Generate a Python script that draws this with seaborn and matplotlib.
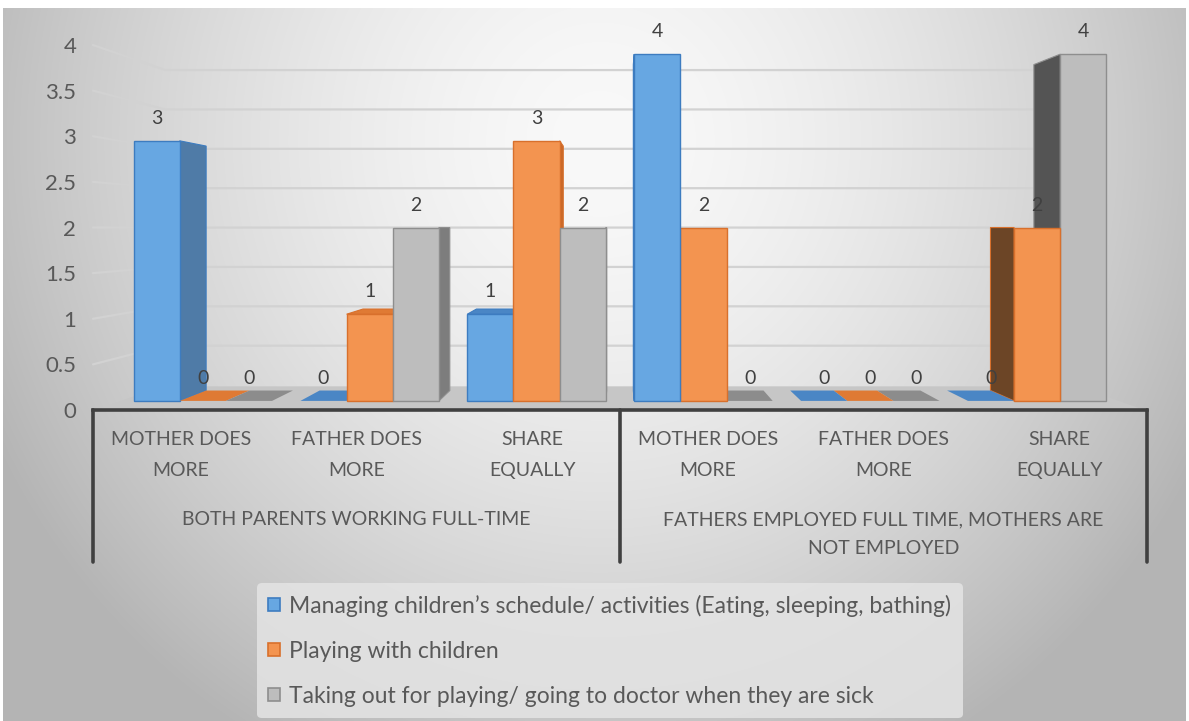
import numpy as np
import pandas as pd
import matplotlib
matplotlib.use("Agg")
import matplotlib.pyplot as plt
import seaborn as sns
from matplotlib.patches import Polygon, Patch

# ---- data -------------------------------------------------------------
groups = ["BOTH PARENTS WORKING FULL-TIME",
          "FATHERS EMPLOYED FULL TIME, MOTHERS ARE\nNOT EMPLOYED"]
subcats = ["MOTHER DOES\nMORE", "FATHER DOES\nMORE", "SHARE\nEQUALLY"]
series = ["Managing children’s schedule/ activities (Eating, sleeping, bathing)",
          "Playing with children",
          "Taking out for playing/ going to doctor when they are sick"]
managing = [3, 0, 1, 4, 0, 0]
playing = [0, 1, 3, 2, 0, 2]
taking_out = [0, 2, 2, 0, 0, 4]
y_ticks = [0, 0.5, 1, 1.5, 2, 2.5, 3, 3.5, 4]
y_tick_labels = ["0", "0.5", "1", "1.5", "2", "2.5", "3", "3.5", "4"]

# ---- style ------------------------------------------------------------
sns.set_style("white")
plt.rcParams["font.family"] = ["Lato", "DejaVu Sans"]
TXT = "#595959"

front_col = ["#67a7e2", "#f39450", "#bdbdbd"]
edge_col = ["#3d7cc0", "#d8702c", "#8e8e8e"]
side_r_col = ["#4f7ba7", "#c86828", "#7d7d7d"]
side_l_col = ["#3b5f85", "#6c4526", "#545454"]
flat_col = ["#4a86c5", "#df7a34", "#8c8c8c"]

W, H = 1189, 721
fig = plt.figure(figsize=(W / 100, H / 100), dpi=100)
fig.patch.set_facecolor("white")


def fig_xy(px, py):
    return px / W, 1 - py / H


# perspective: vanishing point and plane scales (label plane = 1)
VX, VY = 620.0, 228.0
S_BAR = 0.95      # front faces of the columns
DEPTH = 0.94      # column depth (back / front)
S_WALL = 0.863    # back wall
S_FLOOR = 0.87


def persp(px, py, s):
    return VX + (px - VX) * s, VY + (py - VY) * s


# ---- chart-area background (radial shading) ----------------------------
ax_bg = fig.add_axes([3 / W, 0, 1183 / W, 713 / H])
ys, xs = np.mgrid[8:721, 3:1186]
r = np.sqrt(((xs - 600) / 620.0) ** 2 + ((ys - 140) / 640.0) ** 2)
g = np.clip(249 - 60 * r ** 1.6, 180, 250) / 255.0
ax_bg.imshow(np.dstack([g, g, g]), aspect="auto", extent=(0, 1, 0, 1),
             interpolation="bilinear")
ax_bg.set_axis_off()

# ---- label plane (value axis + category axis) --------------------------
L, R, Y0, Y4 = 93.0, 1147.0, 410.0, 45.0
ax = fig.add_axes([L / W, 1 - Y0 / H, (R - L) / W, (Y0 - Y4) / H])
ax.patch.set_alpha(0)
ax.set_xlim(0, 6)
ax.set_ylim(0, 4)
for sp in ax.spines.values():
    sp.set_visible(False)


def pix_to(axis, px, py):
    disp = fig.transFigure.transform(fig_xy(px, py))
    return axis.transData.inverted().transform(disp)


ax.set_yticks(y_ticks)
ax.set_yticklabels(y_tick_labels)
ax.tick_params(axis="y", length=0, pad=12, labelsize=16, labelcolor=TXT)
ax.set_xticks([0.5, 1.5, 2.5, 3.5, 4.5, 5.5])
ax.set_xticklabels(subcats * 2)
ax.tick_params(axis="x", length=0, pad=15, labelsize=14, labelcolor=TXT)
for t in ax.get_xticklabels():
    t.set_linespacing(2.0)

# back-wall gridlines with the left side wall
px_per_unit = (Y0 - Y4) / 4
for v in y_ticks[1:]:
    py = Y0 - v * px_per_unit
    pts = [(L, py), persp(L, py, S_WALL), persp(R, py, S_WALL)]
    d = np.array([pix_to(ax, *p) for p in pts])
    ax.plot(d[:, 0], d[:, 1], color="#d2d2d2", lw=1.6, clip_on=False, zorder=1)

# floor
fl = [(L, Y0 + 1), (R, Y0 + 1), persp(R, Y0, S_FLOOR), persp(L, Y0, S_FLOOR)]
ax.add_patch(Polygon([pix_to(ax, *p) for p in fl], closed=True,
                     facecolor="#c6c6c6", edgecolor="none", zorder=1.5,
                     clip_on=False))

# category axis frame
y_bottom = pix_to(ax, L, 562)[1]
ax.plot([0, 6], [0, 0], color="#404040", lw=2.6, clip_on=False, zorder=2,
        solid_capstyle="projecting")
for xv in [0, 3, 6]:
    ax.plot([xv, xv], [0, y_bottom], color="#404040", lw=2.6, clip_on=False,
            zorder=2)
y_grp = pix_to(ax, L, 511)[1]
for i, name in enumerate(groups):
    ax.text(1.5 + 3 * i, y_grp, name, ha="center", va="top", fontsize=14,
            color=TXT, linespacing=1.85)

# ---- columns (front plane) ----------------------------------------------
bl, bt = persp(L, Y4, S_BAR)
br, bb = persp(R, Y0, S_BAR)
axb = fig.add_axes([bl / W, 1 - bb / H, (br - bl) / W, (bb - bt) / H])
axb.patch.set_alpha(0)

cat_keys = [f"{grp} | {sub}" for grp in groups for sub in subcats]
values = [managing, playing, taking_out]
df = pd.DataFrame({
    "category": np.tile(cat_keys, len(series)),
    "series": np.repeat(series, len(cat_keys)),
    "value": np.concatenate(values),
})
sns.barplot(data=df, x="category", y="value", hue="series", order=cat_keys,
            hue_order=series, palette=front_col, width=0.83, saturation=1,
            legend=False, ax=axb, linewidth=1)
axb.set_xlim(-0.5, 5.5)
axb.set_ylim(0, 4)
axb.set_axis_off()

V = fig.transFigure.transform(fig_xy(VX, VY))
inv = axb.transData.inverted()


def back(pt):
    d = axb.transData.transform(pt)
    return inv.transform(V + (d - V) * DEPTH)


for si, cont in enumerate(axb.containers):
    for bar, val in zip(cont.patches, values[si]):
        x0, w, h = bar.get_x(), bar.get_width(), bar.get_height()
        x1 = x0 + w
        dx0 = axb.transData.transform((x0, 0))[0]
        dx1 = axb.transData.transform((x1, 0))[0]
        dist = abs((dx0 + dx1) / 2 - V[0])
        z = 3 + 2 * (1 - dist / 800.0)
        bar.set_zorder(z)
        bar.set_edgecolor(edge_col[si])
        bar.set_clip_on(False)
        if h == 0:
            bar.set_linewidth(0)
            poly = [(x0, 0), (x1, 0), back((x1, 0)), back((x0, 0))]
            axb.add_patch(Polygon(poly, closed=True, facecolor=flat_col[si],
                                  edgecolor="none", zorder=z - 0.001,
                                  clip_on=False))
            continue
        if dx1 < V[0]:
            poly = [(x1, 0), (x1, h), back((x1, h)), back((x1, 0))]
            axb.add_patch(Polygon(poly, closed=True, facecolor=side_r_col[si],
                                  edgecolor=edge_col[si], lw=0.8,
                                  zorder=z - 0.001, clip_on=False))
        elif dx0 > V[0]:
            poly = [(x0, 0), (x0, h), back((x0, h)), back((x0, 0))]
            axb.add_patch(Polygon(poly, closed=True, facecolor=side_l_col[si],
                                  edgecolor=edge_col[si], lw=0.8,
                                  zorder=z - 0.001, clip_on=False))
        top_disp = axb.transData.transform((x0, h))[1]
        if top_disp < V[1]:
            poly = [(x0, h), (x1, h), back((x1, h)), back((x0, h))]
            axb.add_patch(Polygon(poly, closed=True, facecolor=flat_col[si],
                                  edgecolor=edge_col[si], lw=0.8,
                                  zorder=z - 0.001, clip_on=False))
    texts = axb.bar_label(cont, labels=[str(v) for v in values[si]],
                          padding=10, fontsize=14, color="#404040")
    for t in texts:
        t.set_zorder(30)

# ---- legend -----------------------------------------------------------
handles = [Patch(facecolor=front_col[i], edgecolor=edge_col[i], lw=1.2)
           for i in range(3)]
leg = fig.legend(handles, series, loc="upper left",
                 bbox_to_anchor=fig_xy(257, 583), frameon=True, fontsize=16.5,
                 labelspacing=1.05, handlelength=0.5, handleheight=0.5,
                 handletextpad=0.4, borderpad=0.5, borderaxespad=0)
leg.get_frame().set_facecolor("#e4e4e4")
leg.get_frame().set_edgecolor("none")
leg.get_frame().set_alpha(0.85)
for t in leg.get_texts():
    t.set_color(TXT)

fig.savefig("out.png", dpi=100)
